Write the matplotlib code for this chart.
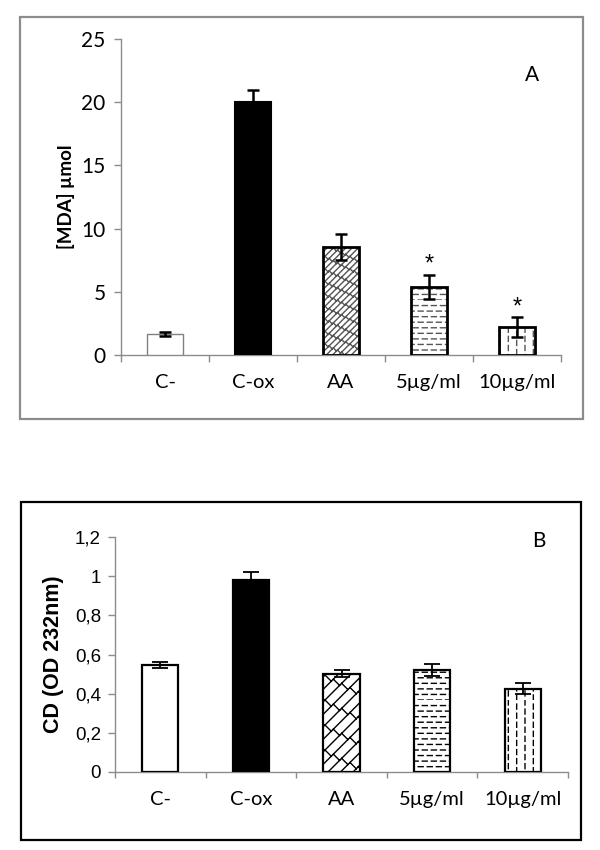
import numpy as np
import matplotlib
matplotlib.use("Agg")
import matplotlib.pyplot as plt
import matplotlib.hatch as mhatch
from matplotlib.patches import Rectangle
from matplotlib.ticker import FuncFormatter

# ---------------- data ----------------
categories = ["C-", "C-ox", "AA", "5µg/ml", "10µg/ml"]
mda_values = [1.65, 20.0, 8.55, 5.4, 2.2]
mda_errors = [0.15, 1.0, 1.05, 0.95, 0.78]
mda_signif = ["", "", "", "*", "*"]
cd_values = [0.545, 0.98, 0.502, 0.52, 0.425]
cd_errors = [0.015, 0.04, 0.018, 0.03, 0.028]
mda_yticks = [0, 5, 10, 15, 20, 25]
cd_yticks = [0, 0.2, 0.4, 0.6, 0.8, 1.0, 1.2]

# ---------------- custom hatches ----------------
class DashedHorizontal(mhatch.HatchPatternBase):
    def __init__(self, hatch, density):
        self.num_lines = int((hatch.count('-') + hatch.count('+')) * density)
        self.ndash = 11
        self.num_vertices = self.num_lines * self.ndash * 2

    def set_vertices_and_codes(self, vertices, codes):
        w = 1.0 / self.ndash
        idx = 0
        for i in range(self.num_lines):
            y = i / self.num_lines
            off = 0.0 if i % 2 == 0 else 0.45 * w
            for j in range(self.ndash):
                x0 = j * w + off
                vertices[idx] = (x0, y)
                vertices[idx + 1] = (x0 + 0.55 * w, y)
                codes[idx] = mhatch.Path.MOVETO
                codes[idx + 1] = mhatch.Path.LINETO
                idx += 2


class DashedVertical(mhatch.HatchPatternBase):
    def __init__(self, hatch, density):
        self.num_lines = int((hatch.count('|') + hatch.count('+')) * density)
        self.ndash = 11
        self.num_vertices = self.num_lines * self.ndash * 2

    def set_vertices_and_codes(self, vertices, codes):
        w = 1.0 / self.ndash
        idx = 0
        for i in range(self.num_lines):
            x = i / self.num_lines
            off = 0.0 if i % 2 == 0 else 0.45 * w
            for j in range(self.ndash):
                y0 = j * w + off
                vertices[idx] = (x, y0)
                vertices[idx + 1] = (x, y0 + 0.55 * w)
                codes[idx] = mhatch.Path.MOVETO
                codes[idx + 1] = mhatch.Path.LINETO
                idx += 2


class DiagonalBrick(mhatch.HatchPatternBase):
    """Brick pattern running along a diagonal (triggered by backslash)."""
    def __init__(self, hatch, density):
        n = hatch.count('\\') + hatch.count('x') + hatch.count('X')
        self.active = n > 0
        self.m = 8 * n  # even number of long lines per tile
        self.nb = 6 * n
        if self.active:
            self.ks = list(range(-self.m - 1, self.m + 2))
            self.js = list(range(-2 * self.nb, 2 * self.nb + 2))
            self.num_vertices = len(self.ks) * 2 + len(self.ks) * len(self.js) * 2
        else:
            self.num_vertices = 0

    def set_vertices_and_codes(self, vertices, codes):
        if not self.active:
            return
        s = 1.0 / self.m
        L = 1.0 / self.nb
        idx = 0
        for k in self.ks:
            c = k * s
            vertices[idx] = (-1.0, -1.0 + c)
            vertices[idx + 1] = (2.0, 2.0 + c)
            codes[idx] = mhatch.Path.MOVETO
            codes[idx + 1] = mhatch.Path.LINETO
            idx += 2
        for k in self.ks:
            c1 = (k + 1) * s
            for j in self.js:
                a = j * L + (k % 2) * L / 2
                vertices[idx] = (a, a + c1)
                vertices[idx + 1] = (a + s / 2, a + c1 - s / 2)
                codes[idx] = mhatch.Path.MOVETO
                codes[idx + 1] = mhatch.Path.LINETO
                idx += 2


_ht = mhatch._hatch_types
_ht[_ht.index(mhatch.HorizontalHatch)] = DashedHorizontal
_ht[_ht.index(mhatch.VerticalHatch)] = DashedVertical
_ht[_ht.index(mhatch.SouthEastHatch)] = DiagonalBrick

plt.rcParams['hatch.linewidth'] = 1.0

fig = plt.figure(figsize=(6, 8.5), dpi=100)

# panel frames
fig.add_artist(Rectangle((20 / 600, 1 - 419 / 850), 563 / 600, 402 / 850,
                         transform=fig.transFigure, fill=False,
                         edgecolor="#8c8c8c", linewidth=1.6))
fig.add_artist(Rectangle((21 / 600, 1 - 840 / 850), 560 / 600, 338 / 850,
                         transform=fig.transFigure, fill=False,
                         edgecolor="black", linewidth=1.6))

calibri = ["Lato", "DejaVu Sans"]
arial = ["Liberation Sans", "DejaVu Sans"]

x = np.arange(len(categories))
width = 0.4

# ---------------- panel A ----------------
axA = fig.add_axes([121 / 600, 1 - 355 / 850, 440 / 600, 316 / 850])
hatchesA = [None, None, "\\\\", "---", "||"]
facesA = ["white", "black", "white", "white", "white"]
edgesA = ["#808080", "black", "black", "black", "black"]
lwsA = [1.0, 1.5, 2.0, 2.0, 2.0]
for i in range(len(categories)):
    if hatchesA[i]:
        axA.bar(x[i], mda_values[i], width, color="white", edgecolor="#555555",
                hatch=hatchesA[i], linewidth=0, zorder=2)
    axA.bar(x[i], mda_values[i], width, facecolor=facesA[i] if not hatchesA[i] else "none",
            edgecolor=edgesA[i], linewidth=lwsA[i], zorder=3)
axA.errorbar(x, mda_values, yerr=mda_errors, fmt="none", ecolor="black",
             elinewidth=1.8, capsize=4, capthick=1.8, zorder=4)
for i, s in enumerate(mda_signif):
    if s:
        axA.text(x[i], mda_values[i] + mda_errors[i] - 0.1, s, ha="center", va="bottom",
                 fontsize=17, fontfamily=arial, color="black")
axA.set_xlim(-0.5, len(categories) - 0.5)
axA.set_ylim(0, 25)
axA.set_yticks(mda_yticks)
axA.set_xticks(x)
axA.set_xticklabels(categories)
axA.set_xticks(np.arange(len(categories) + 1) - 0.5, minor=True)
axA.tick_params(axis="x", which="major", length=0, pad=14, labelsize=14.5,
                labelfontfamily="Lato")
axA.tick_params(axis="x", which="minor", length=5, color="#8c8c8c", width=1)
axA.tick_params(axis="y", length=5, color="#8c8c8c", width=1, pad=6, labelsize=15,
                labelfontfamily="Lato")
for sp in ["top", "right"]:
    axA.spines[sp].set_visible(False)
for sp in ["left", "bottom"]:
    axA.spines[sp].set_color("#8c8c8c")
    axA.spines[sp].set_linewidth(1.0)
axA.set_ylabel("[MDA] µmol", fontfamily=calibri, fontweight="bold", fontsize=13.5,
               labelpad=5)
axA.text(0.935, 0.885, "A", transform=axA.transAxes, fontfamily=calibri,
         fontsize=15, ha="center", va="center")

# ---------------- panel B ----------------
axB = fig.add_axes([115 / 600, 1 - 772 / 850, 453 / 600, 235 / 850])
hatchesB = [None, None, "\\", "---", "||"]
facesB = ["white", "black", "white", "white", "white"]
for i in range(len(categories)):
    if hatchesB[i]:
        axB.bar(x[i], cd_values[i], width, color="white", edgecolor="black",
                hatch=hatchesB[i], linewidth=0, zorder=2)
    axB.bar(x[i], cd_values[i], width, facecolor=facesB[i] if not hatchesB[i] else "none",
            edgecolor="black", linewidth=1.6, zorder=3)
axB.errorbar(x, cd_values, yerr=cd_errors, fmt="none", ecolor="black",
             elinewidth=1.3, capsize=6, capthick=1.3, zorder=4)
axB.set_xlim(-0.5, len(categories) - 0.5)
axB.set_ylim(0, 1.2)
axB.set_yticks(cd_yticks)
axB.yaxis.set_major_formatter(FuncFormatter(lambda v, p: ("%g" % round(v, 2)).replace(".", ",")))
axB.set_xticks(x)
axB.set_xticklabels(categories)
axB.set_xticks(np.arange(len(categories) + 1) - 0.5, minor=True)
axB.tick_params(axis="x", which="major", length=0, pad=14, labelsize=14.5,
                labelfontfamily="Lato")
axB.tick_params(axis="x", which="minor", length=4, color="#8c8c8c", width=1)
axB.tick_params(axis="y", length=5, color="#8c8c8c", width=1, pad=5, labelsize=13.5,
                labelfontfamily="Liberation Sans")
for sp in ["top", "right"]:
    axB.spines[sp].set_visible(False)
for sp in ["left", "bottom"]:
    axB.spines[sp].set_color("#8c8c8c")
    axB.spines[sp].set_linewidth(1.0)
axB.set_ylabel("CD (OD 232nm)", fontfamily=arial, fontweight="bold", fontsize=15.5,
               labelpad=8)
axB.text(0.935, 0.985, "B", transform=axB.transAxes, fontfamily=calibri,
         fontsize=15, ha="center", va="center")

fig.savefig("out.png", dpi=100)
